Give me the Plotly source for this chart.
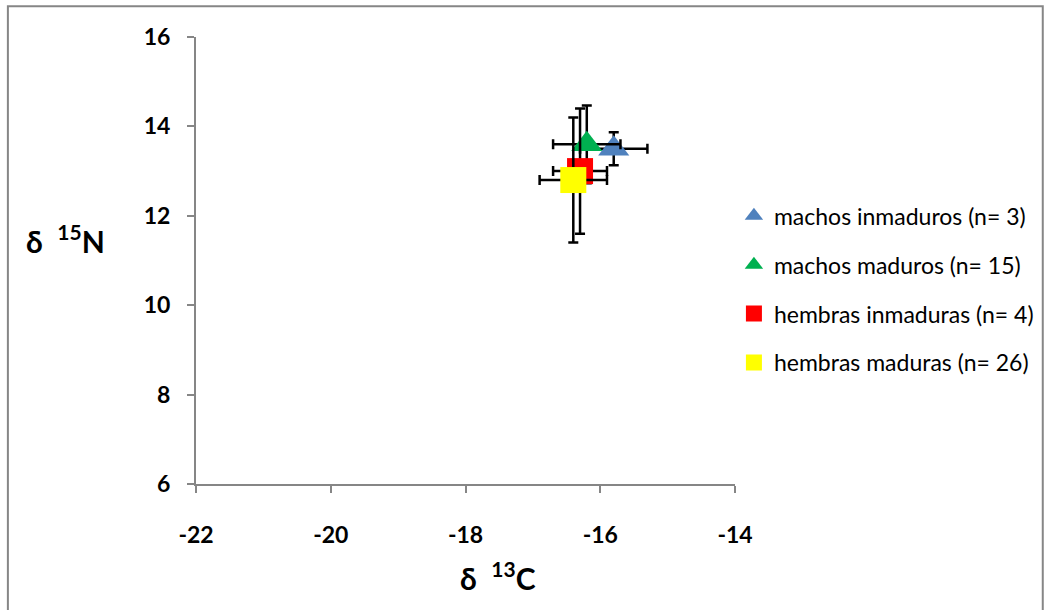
import plotly.graph_objects as go

# Isotope means (±SD) per group
groups = ["machos inmaduros (n= 3)", "machos maduros (n= 15)",
          "hembras inmaduras (n= 4)", "hembras maduras (n= 26)"]
d13c = [-15.8, -16.2, -16.3, -16.4]
d13c_sd = [0.5, 0.5, 0.4, 0.5]
d15n = [13.5, 13.6, 13.0, 12.8]
d15n_sd = [0.37, 0.87, 1.4, 1.4]
colors = ["#4F81BD", "#00B050", "#FF0000", "#FFFF00"]
symbols = ["triangle-up", "triangle-up", "square", "square"]
sizes = [27, 27, 26, 26]

x_ticks = [-22, -20, -18, -16, -14]
y_ticks = [6, 8, 10, 12, 14, 16]

FONT = "Lato, 'Open Sans', sans-serif"
GRAY = "#868686"

fig = go.Figure()
for i, name in enumerate(groups):
    fig.add_trace(go.Scatter(
        x=[d13c[i]], y=[d15n[i]], mode="markers", name=name,
        legendgroup=f"g{i}",
        marker=dict(symbol=symbols[i], size=sizes[i], color=colors[i],
                    line=dict(width=0)),
        error_x=dict(type="data", array=[d13c_sd[i]], color="black",
                     thickness=2.5, width=5),
        error_y=dict(type="data", array=[d15n_sd[i]], color="black",
                     thickness=2.5, width=5),
    ))

fig.update_layout(
    width=1051, height=610,
    margin=dict(l=196, r=314, t=37, b=126),
    paper_bgcolor="white", plot_bgcolor="white",
    font=dict(family=FONT, color="black"),
    showlegend=True,
    legend=dict(x=0.998, y=0.648, xanchor="left", yanchor="top",
                font=dict(size=23, family=FONT, color="black"),
                tracegroupgap=16, itemsizing="trace",
                bgcolor="rgba(0,0,0,0)"),
    xaxis=dict(range=[-22, -14], tickvals=x_ticks,
               ticktext=[f"<b>{v}</b>" for v in x_ticks],
               showgrid=False, zeroline=False, showline=True,
               linecolor=GRAY, linewidth=2, ticks="outside",
               ticklen=7, tickwidth=2, tickcolor=GRAY,
               tickfont=dict(size=23, family=FONT),
               ticklabelstandoff=22),
    yaxis=dict(range=[6, 16], tickvals=y_ticks,
               ticktext=[f"<b>{v}</b>" for v in y_ticks],
               showgrid=False, zeroline=False, showline=True,
               linecolor=GRAY, linewidth=2, ticks="outside",
               ticklen=7, tickwidth=2, tickcolor=GRAY,
               tickfont=dict(size=23, family=FONT),
               ticklabelstandoff=12),
    annotations=[
        dict(text="<b>δ  <sup>15</sup>N</b>", xref="paper", yref="paper",
             x=-0.32, y=0.548, xanchor="left", yanchor="middle",
             showarrow=False, font=dict(size=30, family=FONT)),
        dict(text="<b>δ  <sup>13</sup>C</b>", xref="paper", yref="paper",
             x=0.56, y=-0.205, xanchor="center", yanchor="middle",
             showarrow=False, font=dict(size=30, family=FONT)),
    ],
    shapes=[dict(type="rect", xref="paper", yref="paper",
                 x0=-0.349, x1=1.571, y0=-0.3, y1=1.069,
                 line=dict(color=GRAY, width=2), layer="below")],
)

fig.write_html("out.html")
